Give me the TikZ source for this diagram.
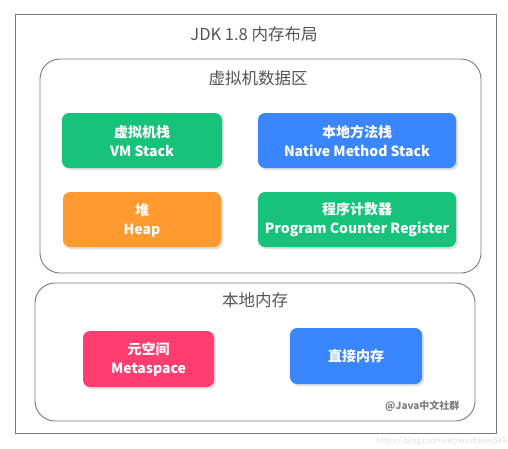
\documentclass[tikz,border=0pt]{standalone}
\usepackage{fontspec}
\setmainfont{Noto Sans CJK SC}
\newfontfamily\cjk{Noto Sans CJK SC}
\definecolor{cgreen}{HTML}{17C27A}
\definecolor{cblue}{HTML}{3A86FF}
\definecolor{corange}{HTML}{FF9A30}
\definecolor{cpink}{HTML}{FF3D70}
\definecolor{cframe}{HTML}{7A7A7A}
\definecolor{ctext}{HTML}{555555}
\begin{document}
\begin{tikzpicture}[x=1pt,y=-1pt,
  region/.style={draw=cframe,line width=0.9pt,rounded corners=20pt},
  mbox/.style={rounded corners=7pt,text=white,align=center,font=\cjk\bfseries\fontsize{14}{19}\selectfont,inner sep=0pt},
  heading/.style={text=ctext,font=\cjk\fontsize{16.5}{18}\selectfont}]
\useasboundingbox (0,0) rectangle (508,448);
\fill[white] (0,0) rectangle (508,448);
\draw[draw=cframe,line width=0.8pt] (15,14) rectangle (496,433);
\node[heading] (title) at (254,34) {JDK 1.8 内存布局};
% upper region
\draw[region] (40,59) rectangle (481,273);
\node[heading] (vmarea) at (258,78) {虚拟机数据区};
% lower region
\draw[region] (35,283) rectangle (475,421);
\node[heading] (native) at (255,300) {本地内存};
% shadows
\foreach \a/\b/\c/\d in {62/113/222/168, 258/113/456/168, 63/192/221/247, 258/192/456/247, 83/331/214/387, 290/328/422/384}
  \fill[black!12,rounded corners=7pt] (\a+2,\b+2) rectangle (\c+2,\d+2);
% boxes
\fill[cgreen,rounded corners=7pt] (62,113) rectangle (222,168);
\node[mbox] (vms) at (142,141) {虚拟机栈\\VM Stack};
\fill[cblue,rounded corners=7pt] (258,113) rectangle (456,168);
\node[mbox] (nms) at (357,141) {本地方法栈\\Native Method Stack};
\fill[corange,rounded corners=7pt] (63,192) rectangle (221,247);
\node[mbox] (heap) at (142,220) {堆\\Heap};
\fill[cgreen,rounded corners=7pt] (258,192) rectangle (456,247);
\node[mbox] (pcr) at (357,220) {程序计数器\\Program Counter Register};
\fill[cpink,rounded corners=7pt] (83,331) rectangle (214,387);
\node[mbox] (meta) at (148.5,359.5) {元空间\\Metaspace};
\fill[cblue,rounded corners=7pt] (290,328) rectangle (422,384);
\node[mbox] (direct) at (356,356) {直接内存};
\node[text=black!50,font=\cjk\bfseries\fontsize{10}{12}\selectfont,anchor=east] (sig) at (463,406) {@Java中文社群};
\node[text=black!12,font=\cjk\fontsize{8}{10}\selectfont,anchor=east,inner sep=0pt] (wm) at (507,441) {https://blog.csdn.net/wuzhiwei549};
\end{tikzpicture}
\end{document}
